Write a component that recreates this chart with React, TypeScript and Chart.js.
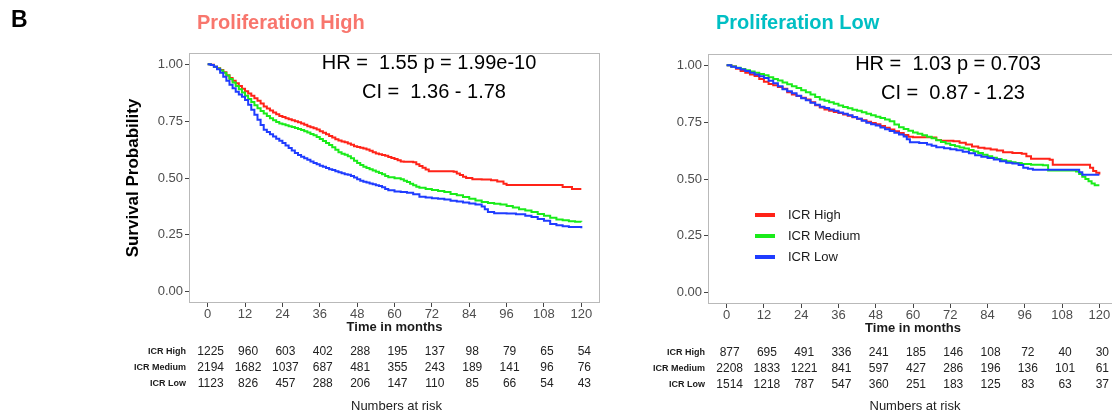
import React, { useEffect, useRef } from "react";
import { Chart, registerables } from "chart.js";

Chart.register(...registerables);

const FONT = "'Liberation Sans', Arial, Helvetica, sans-serif";

// ---------- shared axis data ----------
const timeTicks = [0, 12, 24, 36, 48, 60, 72, 84, 96, 108, 120];
const yTicks = [0, 0.25, 0.5, 0.75, 1];
const groupLabels = ["ICR High", "ICR Medium", "ICR Low"];
const groupColors = ["#ff2318", "#1aeb1a", "#1f3cff"];

// ---------- Proliferation High ----------
const phHighT = [0, 1, 2, 3, 4, 5, 6, 7, 8, 9, 10, 11, 12, 13, 14, 15, 16, 17, 18, 19, 20, 21, 22, 23, 24, 25, 26, 27, 28, 29, 30, 31, 32, 33, 34, 35, 36, 37, 38, 39, 40, 41, 42, 43, 44, 45, 46, 47, 48, 49, 50, 51, 52, 53, 54, 55, 56, 57, 58, 59, 60, 61, 62, 63, 66, 67, 68, 69, 70, 71, 79, 80, 81, 82, 83, 85, 88, 91, 93, 95, 96, 114, 117, 120];
const phHighS = [1, 0.998, 0.99, 0.983, 0.975, 0.965, 0.952, 0.94, 0.928, 0.917, 0.905, 0.893, 0.882, 0.872, 0.862, 0.851, 0.84, 0.828, 0.815, 0.806, 0.797, 0.788, 0.78, 0.773, 0.768, 0.763, 0.758, 0.754, 0.75, 0.745, 0.74, 0.734, 0.728, 0.723, 0.719, 0.713, 0.706, 0.699, 0.692, 0.685, 0.678, 0.671, 0.665, 0.661, 0.657, 0.652, 0.646, 0.64, 0.636, 0.633, 0.63, 0.625, 0.62, 0.613, 0.608, 0.604, 0.601, 0.598, 0.592, 0.588, 0.584, 0.578, 0.573, 0.571, 0.569, 0.56, 0.553, 0.545, 0.537, 0.53, 0.527, 0.52, 0.513, 0.506, 0.5, 0.495, 0.493, 0.49, 0.485, 0.475, 0.469, 0.46, 0.452, 0.452];
const phMedT = [0, 1, 2, 3, 4, 5, 6, 7, 8, 9, 10, 11, 12, 13, 14, 15, 16, 17, 18, 19, 20, 21, 22, 23, 24, 25, 26, 27, 28, 29, 30, 31, 32, 33, 34, 35, 36, 37, 38, 39, 40, 41, 42, 43, 44, 45, 46, 47, 48, 49, 50, 51, 52, 53, 54, 55, 56, 57, 58, 60, 62, 63, 64, 65, 66, 67, 68, 70, 72, 74, 76, 78, 80, 82, 84, 86, 88, 90, 92, 94, 96, 98, 100, 102, 104, 106, 108, 110, 112, 114, 116, 118, 120];
const phMedS = [1, 0.997, 0.99, 0.982, 0.973, 0.963, 0.951, 0.936, 0.92, 0.905, 0.89, 0.876, 0.862, 0.848, 0.834, 0.82, 0.807, 0.795, 0.784, 0.773, 0.763, 0.754, 0.746, 0.74, 0.736, 0.732, 0.728, 0.724, 0.72, 0.716, 0.711, 0.706, 0.7, 0.694, 0.688, 0.68, 0.672, 0.663, 0.654, 0.645, 0.635, 0.624, 0.613, 0.607, 0.602, 0.596, 0.587, 0.576, 0.566, 0.557, 0.549, 0.544, 0.538, 0.533, 0.528, 0.522, 0.516, 0.509, 0.503, 0.499, 0.494, 0.488, 0.482, 0.475, 0.468, 0.462, 0.457, 0.452, 0.447, 0.443, 0.438, 0.43, 0.424, 0.416, 0.409, 0.401, 0.394, 0.39, 0.387, 0.383, 0.377, 0.37, 0.363, 0.357, 0.35, 0.342, 0.334, 0.325, 0.317, 0.314, 0.31, 0.308, 0.307];
const phLowT = [0, 1, 2, 3, 4, 5, 6, 7, 8, 9, 10, 11, 12, 13, 14, 15, 16, 17, 18, 19, 20, 21, 22, 23, 24, 25, 26, 27, 28, 29, 30, 31, 32, 33, 34, 35, 36, 37, 38, 39, 40, 41, 42, 43, 44, 45, 46, 47, 48, 49, 50, 51, 52, 53, 54, 55, 56, 57, 58, 60, 62, 64, 66, 68, 70, 72, 74, 76, 78, 80, 82, 84, 86, 88, 89, 90, 92, 96, 99, 102, 104, 106, 108, 110, 112, 114, 116, 120];
const phLowS = [1, 0.997, 0.99, 0.978, 0.963, 0.945, 0.928, 0.91, 0.895, 0.88, 0.867, 0.857, 0.843, 0.822, 0.8, 0.778, 0.756, 0.733, 0.712, 0.702, 0.693, 0.683, 0.673, 0.664, 0.654, 0.643, 0.632, 0.621, 0.61, 0.601, 0.594, 0.587, 0.58, 0.573, 0.566, 0.56, 0.554, 0.549, 0.544, 0.539, 0.535, 0.53, 0.525, 0.521, 0.517, 0.514, 0.509, 0.502, 0.495, 0.488, 0.484, 0.48, 0.476, 0.472, 0.468, 0.465, 0.459, 0.452, 0.446, 0.441, 0.438, 0.435, 0.428, 0.418, 0.414, 0.411, 0.409, 0.405, 0.4, 0.397, 0.392, 0.388, 0.383, 0.375, 0.362, 0.35, 0.345, 0.344, 0.34, 0.334, 0.328, 0.32, 0.312, 0.298, 0.292, 0.288, 0.284, 0.279];
const phRiskHigh = [1225, 960, 603, 402, 288, 195, 137, 98, 79, 65, 54];
const phRiskMedium = [2194, 1682, 1037, 687, 481, 355, 243, 189, 141, 96, 76];
const phRiskLow = [1123, 826, 457, 288, 206, 147, 110, 85, 66, 54, 43];

// ---------- Proliferation Low ----------
const plHighT = [0, 1.5, 3, 4.5, 6, 7.5, 9, 10.5, 12, 13.5, 15, 16.5, 18, 19.5, 21, 22.5, 24, 25.5, 27, 28.5, 30, 31.5, 33, 34.5, 36, 37.5, 39, 40.5, 42, 43.5, 45, 46.5, 48, 49.5, 51, 52.5, 54, 55.5, 57, 58.5, 60, 66, 67.5, 69, 73, 75, 77, 79, 81, 83, 85, 87, 89, 92, 95, 96.5, 98, 104, 105, 117, 118, 119, 120];
const plHighS = [1, 0.995, 0.985, 0.975, 0.967, 0.96, 0.953, 0.94, 0.928, 0.918, 0.912, 0.905, 0.897, 0.882, 0.872, 0.865, 0.858, 0.85, 0.838, 0.825, 0.815, 0.806, 0.8, 0.795, 0.79, 0.784, 0.778, 0.772, 0.765, 0.758, 0.752, 0.746, 0.741, 0.733, 0.726, 0.718, 0.71, 0.702, 0.694, 0.686, 0.684, 0.683, 0.672, 0.668, 0.666, 0.66, 0.652, 0.643, 0.638, 0.634, 0.63, 0.625, 0.618, 0.614, 0.611, 0.6, 0.589, 0.585, 0.563, 0.55, 0.535, 0.527, 0.52];
const plMedT = [0, 1.5, 3, 4.5, 6, 7.5, 9, 10.5, 12, 13.5, 15, 16.5, 18, 19.5, 21, 22.5, 24, 25.5, 27, 28.5, 30, 31.5, 33, 34.5, 36, 37.5, 39, 40.5, 42, 43.5, 45, 46.5, 48, 49.5, 51, 52.5, 54, 55.5, 57, 58.5, 60, 61.5, 63, 64.5, 66, 67.5, 69, 70.5, 72, 73.5, 75, 76.5, 78, 79.5, 81, 82.5, 84, 85.5, 87, 88.5, 90, 91.5, 93, 95, 98, 101.8, 103.5, 112.5, 113.5, 114.5, 115.5, 116.5, 117.5, 118.5, 120];
const plMedS = [1, 0.995, 0.99, 0.984, 0.978, 0.973, 0.967, 0.962, 0.956, 0.948, 0.94, 0.933, 0.925, 0.917, 0.908, 0.9, 0.891, 0.882, 0.872, 0.861, 0.85, 0.844, 0.838, 0.831, 0.823, 0.817, 0.811, 0.805, 0.8, 0.794, 0.787, 0.78, 0.774, 0.768, 0.762, 0.754, 0.74, 0.728, 0.72, 0.712, 0.705, 0.699, 0.693, 0.686, 0.679, 0.671, 0.663, 0.656, 0.65, 0.644, 0.639, 0.634, 0.628, 0.621, 0.614, 0.607, 0.6, 0.594, 0.588, 0.583, 0.578, 0.574, 0.57, 0.566, 0.563, 0.561, 0.537, 0.533, 0.522, 0.51, 0.5, 0.49, 0.48, 0.472, 0.472];
const plLowT = [0, 1.5, 3, 4.5, 6, 7.5, 9, 10.5, 12, 13.5, 15, 16.5, 18, 19.5, 21, 22.5, 24, 25.5, 27, 28.5, 30, 31.5, 33, 34.5, 36, 37.5, 39, 40.5, 42, 43.5, 45, 46.5, 48, 49.5, 51, 52.5, 54, 55.5, 57, 58, 59, 62, 64.5, 66, 67.5, 70, 72, 74, 76, 78, 80, 82, 84, 86, 88, 90, 92, 94, 95.5, 97, 98.6, 113.5, 114.5, 120];
const plLowS = [1, 0.994, 0.988, 0.982, 0.975, 0.968, 0.96, 0.952, 0.944, 0.932, 0.921, 0.908, 0.895, 0.886, 0.877, 0.866, 0.855, 0.846, 0.836, 0.827, 0.818, 0.812, 0.806, 0.8, 0.793, 0.787, 0.78, 0.773, 0.765, 0.756, 0.748, 0.741, 0.735, 0.727, 0.719, 0.711, 0.703, 0.696, 0.687, 0.675, 0.662, 0.658, 0.652, 0.646, 0.64, 0.635, 0.631, 0.626, 0.62, 0.613, 0.604, 0.598, 0.592, 0.586, 0.578, 0.572, 0.568, 0.562, 0.55, 0.545, 0.541, 0.53, 0.519, 0.519];
const plRiskHigh = [877, 695, 491, 336, 241, 185, 146, 108, 72, 40, 30];
const plRiskMedium = [2208, 1833, 1221, 841, 597, 427, 286, 196, 136, 101, 61];
const plRiskLow = [1514, 1218, 787, 547, 360, 251, 183, 125, 83, 63, 37];

type Area = { left: number; right: number; top: number; bottom: number };

type PanelProps = {
  canvasLeft: number;
  canvasWidth: number;
  area: Area;
  title: string;
  titleColor: string;
  hr: string;
  ci: string;
  showYTitle: boolean;
  showLegend: boolean;
  showTag: boolean;
  times: number[][];
  surv: number[][];
  risk: number[][];
};

const H = 414;
const X_AXIS_H = 30;

function Panel(props: PanelProps) {
  const ref = useRef<HTMLCanvasElement>(null);

  useEffect(() => {
    const canvas = ref.current!;
    const { area, canvasWidth } = props;

    const overlay = {
      id: "overlay",
      afterDraw(chart: any) {
        const ctx: CanvasRenderingContext2D = chart.ctx;
        const ca = chart.chartArea;
        const xs = chart.scales.x;
        ctx.save();

        // panel border
        ctx.strokeStyle = "#b9b9b9";
        ctx.lineWidth = 1;
        ctx.strokeRect(ca.left + 0.5, ca.top + 0.5, ca.right - ca.left - 1, ca.bottom - ca.top - 1);

        // tag
        if (props.showTag) {
          ctx.fillStyle = "#000";
          ctx.font = `bold 23px ${FONT}`;
          ctx.textAlign = "left";
          ctx.textBaseline = "alphabetic";
          ctx.fillText("B", 11, 27);
        }

        // title
        ctx.fillStyle = props.titleColor;
        ctx.font = `bold 20px ${FONT}`;
        ctx.textAlign = "left";
        ctx.textBaseline = "alphabetic";
        ctx.fillText(props.title, ca.left + 8, 29);

        // HR / CI annotation
        ctx.fillStyle = "#000";
        ctx.font = `20px ${FONT}`;
        ctx.textAlign = "center";
        ctx.fillText(props.hr, ca.left + 240, ca.top + 16);
        ctx.fillText(props.ci, ca.left + 245, ca.top + 45);

        // y title
        if (props.showYTitle) {
          ctx.save();
          ctx.translate(138, (ca.top + ca.bottom) / 2);
          ctx.rotate(-Math.PI / 2);
          ctx.font = `bold 17px ${FONT}`;
          ctx.fillStyle = "#000";
          ctx.textAlign = "center";
          ctx.textBaseline = "alphabetic";
          ctx.fillText("Survival Probability", 0, 0);
          ctx.restore();
        }

        // x title
        ctx.font = `bold 13px ${FONT}`;
        ctx.fillStyle = "#1a1a1a";
        ctx.textAlign = "center";
        ctx.textBaseline = "alphabetic";
        ctx.fillText("Time in months", (ca.left + ca.right) / 2, ca.bottom + 28);

        // legend
        if (props.showLegend) {
          groupLabels.forEach((lab, i) => {
            const y = ca.top + 161 + i * 21;
            ctx.strokeStyle = groupColors[i];
            ctx.lineWidth = 4;
            ctx.beginPath();
            ctx.moveTo(ca.left + 47, y);
            ctx.lineTo(ca.left + 67, y);
            ctx.stroke();
            ctx.fillStyle = "#1a1a1a";
            ctx.font = `13px ${FONT}`;
            ctx.textAlign = "left";
            ctx.textBaseline = "middle";
            ctx.fillText(lab, ca.left + 80, y);
          });
        }

        // risk table
        props.risk.forEach((row, r) => {
          const y = ca.bottom + 52 + r * 16;
          ctx.textBaseline = "alphabetic";
          ctx.font = `bold 9px ${FONT}`;
          ctx.fillStyle = "#1a1a1a";
          ctx.textAlign = "right";
          ctx.fillText(groupLabels[r], ca.left - 3, y - 1);
          ctx.font = `12px ${FONT}`;
          ctx.fillStyle = "#222";
          ctx.textAlign = "center";
          row.forEach((n, i) => {
            ctx.fillText(String(n), xs.getPixelForValue(timeTicks[i]) + 3, y);
          });
        });

        ctx.font = `13px ${FONT}`;
        ctx.fillStyle = "#222";
        ctx.textAlign = "center";
        ctx.fillText("Numbers at risk", (ca.left + ca.right) / 2 + 2, H - 4);

        ctx.restore();
      },
    };

    const tickFont = { family: FONT, size: 13 };
    const gridOpts = {
      drawOnChartArea: false,
      drawTicks: true,
      tickLength: 4,
      tickColor: "#444",
      color: "#444",
    };

    const chart = new Chart(canvas, {
      type: "line",
      data: {
        datasets: props.times.map((t, k) => ({
          label: groupLabels[k],
          data: t.map((x, i) => ({ x, y: props.surv[k][i] })),
          borderColor: groupColors[k],
          backgroundColor: groupColors[k],
          borderWidth: 2,
          pointRadius: 0,
          stepped: "before" as const,
          fill: false,
          order: 2 - k,
        })),
      },
      options: {
        responsive: false,
        animation: false,
        devicePixelRatio: 1,
        layout: {
          padding: {
            left: 0,
            right: canvasWidth - area.right,
            top: area.top,
            bottom: H - area.bottom - X_AXIS_H,
          },
        },
        plugins: {
          legend: { display: false },
          tooltip: { enabled: false },
        },
        scales: {
          x: {
            type: "linear",
            min: -6,
            max: 126,
            afterBuildTicks: (sc: any) => {
              sc.ticks = timeTicks.map((v) => ({ value: v }));
            },
            afterFit: (sc: any) => {
              sc.height = X_AXIS_H;
            },
            ticks: {
              font: tickFont,
              color: "#4d4d4d",
              padding: 0,
              maxRotation: 0,
              autoSkip: false,
              callback: (v: any) => String(v),
            },
            grid: gridOpts,
            border: { display: false },
          },
          y: {
            type: "linear",
            min: -0.05,
            max: 1.05,
            afterBuildTicks: (sc: any) => {
              sc.ticks = yTicks.map((v) => ({ value: v }));
            },
            afterFit: (sc: any) => {
              sc.width = area.left;
            },
            ticks: {
              font: tickFont,
              color: "#4d4d4d",
              padding: 2,
              callback: (v: any) => Number(v).toFixed(2),
            },
            grid: gridOpts,
            border: { display: false },
          },
        },
      },
      plugins: [overlay],
    } as any);

    return () => chart.destroy();
  }, []);

  return (
    <canvas
      ref={ref}
      width={props.canvasWidth}
      height={H}
      style={{
        position: "absolute",
        left: props.canvasLeft,
        top: 0,
        width: props.canvasWidth,
        height: H,
      }}
    />
  );
}

export default function App() {
  return (
    <div
      style={{
        position: "absolute",
        left: 0,
        top: 0,
        width: 1112,
        height: 414,
        overflow: "hidden",
        background: "#fff",
      }}
    >
      <Panel
        canvasLeft={0}
        canvasWidth={610}
        area={{ left: 189, right: 600, top: 53, bottom: 303 }}
        title="Proliferation High"
        titleColor="#F8766D"
        hr="HR =  1.55 p = 1.99e-10"
        ci="CI =  1.36 - 1.78"
        showYTitle={true}
        showLegend={false}
        showTag={true}
        times={[phHighT, phMedT, phLowT]}
        surv={[phHighS, phMedS, phLowS]}
        risk={[phRiskHigh, phRiskMedium, phRiskLow]}
      />
      <Panel
        canvasLeft={610}
        canvasWidth={520}
        area={{ left: 98, right: 508, top: 54, bottom: 304 }}
        title="Proliferation Low"
        titleColor="#00BFC4"
        hr="HR =  1.03 p = 0.703"
        ci="CI =  0.87 - 1.23"
        showYTitle={false}
        showLegend={true}
        showTag={false}
        times={[plHighT, plMedT, plLowT]}
        surv={[plHighS, plMedS, plLowS]}
        risk={[plRiskHigh, plRiskMedium, plRiskLow]}
      />
    </div>
  );
}
